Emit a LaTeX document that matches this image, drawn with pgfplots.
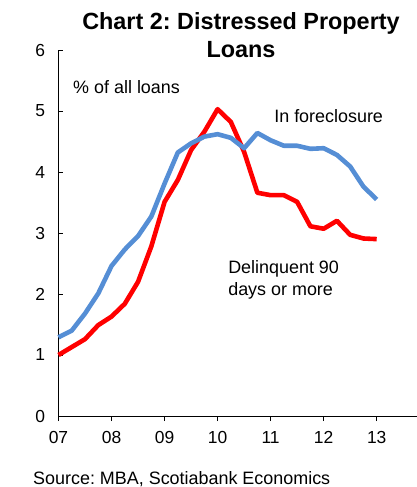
\documentclass[border=0pt]{standalone}
\usepackage{pgfplots}
\pgfplotsset{compat=1.18}
\usepackage{fontspec}
\setmainfont{Liberation Sans}
\frenchspacing
\definecolor{fblue}{RGB}{85,142,213}
\definecolor{dred}{RGB}{255,0,0}
\pgfplotstableread{
x y
2007.00 1.00
2007.25 1.13
2007.50 1.26
2007.75 1.49
2008.00 1.63
2008.25 1.84
2008.50 2.20
2008.75 2.78
2009.00 3.51
2009.25 3.87
2009.50 4.36
2009.75 4.66
2010.00 5.03
2010.25 4.82
2010.50 4.33
2010.75 3.66
2011.00 3.62
2011.25 3.62
2011.50 3.51
2011.75 3.11
2012.00 3.07
2012.25 3.20
2012.50 2.97
2012.75 2.91
2013.00 2.90
}\delinq
\pgfplotstableread{
x y
2007.00 1.29
2007.25 1.40
2007.50 1.68
2007.75 2.01
2008.00 2.46
2008.25 2.73
2008.50 2.95
2008.75 3.27
2009.00 3.81
2009.25 4.32
2009.50 4.47
2009.75 4.58
2010.00 4.62
2010.25 4.56
2010.50 4.39
2010.75 4.64
2011.00 4.52
2011.25 4.43
2011.50 4.43
2011.75 4.38
2012.00 4.39
2012.25 4.28
2012.50 4.09
2012.75 3.76
2013.00 3.55
}\forecl
\begin{document}
\begin{tikzpicture}
\useasboundingbox (-58.5bp,-71bp) rectangle (358.5bp,416bp);
\begin{axis}[
  at={(0,0)}, anchor=south west,
  scale only axis, width=358.5bp, height=366bp,
  xmin=2007, xmax=2013.76, ymin=0, ymax=6,
  axis x line=bottom, axis y line=left,
  axis line style={-, line width=0.8bp, black},
  xtick={2007,2008,2009,2010,2011,2012,2013},
  xticklabels={07,08,09,10,11,12,13},
  ytick={0,1,2,3,4,5,6},
  xtick align=outside, ytick align=inside,
  major tick length=5bp,
  tick style={black, line width=0.8bp},
  /pgf/number format/assume math mode=true,
  xticklabel style={font=\fontsize{17.5}{17.5}\selectfont, yshift=-7bp},
  yticklabel style={font=\fontsize{17.5}{17.5}\selectfont, xshift=-10bp},
  clip=false,
]
\addplot[dred, line width=4.6bp, line join=round] table[x=x,y=y] {\delinq};
\addplot[fblue, line width=4.6bp, line join=round] table[x=x,y=y] {\forecl};
\node[anchor=base west, font=\fontsize{18}{18}\selectfont, inner sep=0pt] at (axis cs:2007.274,5.28) {\% of all loans};
\node[anchor=base west, font=\fontsize{18}{18}\selectfont, inner sep=0pt] at (axis cs:2011.066,4.81) {In foreclosure};
\node[anchor=base west, font=\fontsize{18}{18}\selectfont, inner sep=0pt] at (axis cs:2010.198,2.33) {Delinquent 90};
\node[anchor=base west, font=\fontsize{18}{18}\selectfont, inner sep=0pt] at (axis cs:2010.198,1.98) {days or more};
\end{axis}
\node[anchor=base, font=\fontsize{23.5}{23.5}\selectfont\bfseries, inner sep=0pt] at (182.5bp,386bp) {Chart 2: Distressed Property};
\node[anchor=base, font=\fontsize{23.5}{23.5}\selectfont\bfseries, inner sep=0pt] at (182.5bp,358bp) {Loans};
\node[anchor=base west, font=\fontsize{18}{18}\selectfont, inner sep=0pt] at (-25.5bp,-68bp) {Source: MBA, Scotiabank Economics};
\end{tikzpicture}
\end{document}
